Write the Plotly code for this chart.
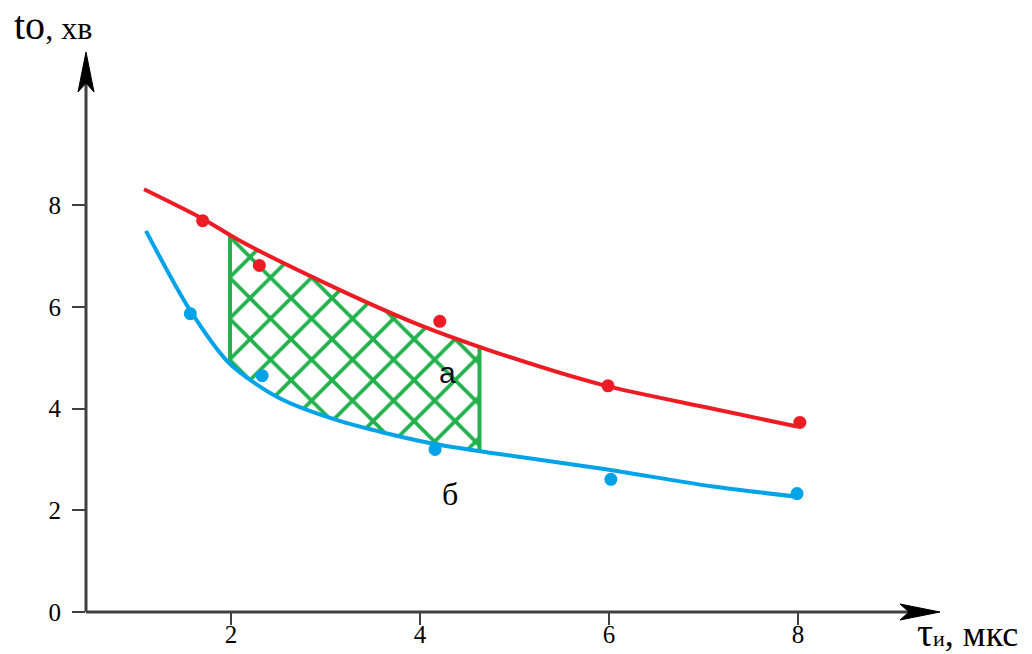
import numpy as np
import plotly.graph_objects as go

# ---- data ----
TAU_RED_PTS = [1.70, 2.30, 4.21, 5.99, 8.02]
T_RED_PTS = [7.70, 6.82, 5.72, 4.45, 3.73]
TAU_BLUE_PTS = [1.57, 2.33, 4.16, 6.02, 7.99]
T_BLUE_PTS = [5.87, 4.65, 3.20, 2.61, 2.33]

TAU_RED_CURVE = [1.08, 1.70, 2.09, 3.15, 4.02, 4.72, 5.93, 7.10, 7.99]
T_RED_CURVE = [8.32, 7.74, 7.31, 6.34, 5.63, 5.16, 4.47, 4.00, 3.65]
TAU_BLUE_CURVE = [1.10, 1.56, 1.98, 2.50, 3.15, 4.09, 4.72, 5.93, 7.10, 7.99]
T_BLUE_CURVE = [7.50, 5.96, 4.90, 4.22, 3.76, 3.33, 3.14, 2.82, 2.47, 2.27]

HATCH_RANGE = [1.99, 4.63]
X_TICKS = [2, 4, 6, 8]
Y_TICKS = [0, 2, 4, 6, 8]
LABEL_A = (4.29, 4.72, "а")
LABEL_B = (4.32, 2.32, "б")

RED = "#ed1c24"
BLUE = "#00a2e8"
GREEN = "#22b14c"
AXIS = "#404040"

# ---- layout geometry ----
W, H = 1032, 654
L, R, T, B = 86, 940, 52, 612
XR = [0.466, 9.503]
YR = [0.0, 11.02]


def px_x(p):
    return (p - L) / (R - L)


def px_y(p):
    return (B - p) / (B - T)


fig = go.Figure()

# hatched region between the curves
xl, xr = HATCH_RANGE
top_x = [xl] + [x for x in TAU_RED_CURVE if xl < x < xr] + [xr]
bot_x = [xl] + [x for x in TAU_BLUE_CURVE if xl < x < xr] + [xr]
top_y = list(np.interp(top_x, TAU_RED_CURVE, T_RED_CURVE))
bot_y = list(np.interp(bot_x, TAU_BLUE_CURVE, T_BLUE_CURVE))
poly_x = top_x + bot_x[::-1] + [top_x[0]]
poly_y = top_y + bot_y[::-1] + [top_y[0]]
fig.add_trace(go.Scatter(
    x=poly_x, y=poly_y, mode="none", fill="toself",
    fillcolor="rgba(0,0,0,0)",
    fillpattern=dict(shape="x", fgcolor=GREEN, fgopacity=1, bgcolor="rgba(0,0,0,0)",
                     size=29, solidity=0.24, fillmode="overlay"),
    hoverinfo="skip", showlegend=False))
fig.add_trace(go.Scatter(
    x=[xl, xl, None, xr, xr],
    y=[top_y[0], bot_y[0], None, top_y[-1], bot_y[-1]],
    mode="lines", line=dict(color=GREEN, width=4),
    hoverinfo="skip", showlegend=False))

# curves
fig.add_trace(go.Scatter(x=TAU_RED_CURVE, y=T_RED_CURVE, mode="lines",
                         line=dict(color=RED, width=4, shape="spline", smoothing=0.8),
                         showlegend=False))
fig.add_trace(go.Scatter(x=TAU_BLUE_CURVE, y=T_BLUE_CURVE, mode="lines",
                         line=dict(color=BLUE, width=4, shape="spline", smoothing=0.8),
                         showlegend=False))
fig.add_trace(go.Scatter(x=TAU_RED_PTS, y=T_RED_PTS, mode="markers",
                         marker=dict(color=RED, size=13), showlegend=False))
fig.add_trace(go.Scatter(x=TAU_BLUE_PTS, y=T_BLUE_PTS, mode="markers",
                         marker=dict(color=BLUE, size=13), showlegend=False))

serif = "Liberation Serif, Times New Roman, serif"
tickfont = dict(family=serif, size=25, color="black")

fig.update_layout(
    width=W, height=H,
    margin=dict(l=L, r=W - R, t=T, b=H - B, pad=0, autoexpand=False),
    paper_bgcolor="white", plot_bgcolor="white",
    xaxis=dict(range=XR, tickvals=X_TICKS, ticktext=[str(v) for v in X_TICKS],
               ticks="outside", ticklen=12, tickwidth=2, tickcolor=AXIS,
               showgrid=False, zeroline=False, showline=False, automargin=False,
               tickfont=tickfont, ticklabelstandoff=-12),
    yaxis=dict(range=YR, tickvals=Y_TICKS, ticktext=[str(v) for v in Y_TICKS],
               ticks="outside", ticklen=13, tickwidth=2, tickcolor=AXIS,
               showgrid=False, zeroline=False, showline=False, automargin=False,
               tickfont=tickfont, ticklabelstandoff=6),
)

# axes with arrowheads
shapes = [
    dict(type="line", xref="paper", yref="paper", x0=0, x1=0, y0=0, y1=px_y(T + 25),
         line=dict(color=AXIS, width=3)),
    dict(type="line", xref="paper", yref="paper", x0=0, x1=px_x(R - 25), y0=0, y1=0,
         line=dict(color=AXIS, width=3)),
    dict(type="path", xref="paper", yref="paper", xsizemode="pixel", ysizemode="pixel",
         xanchor=0, yanchor=1, path="M0,0 L-8,-40 L0,-31 L8,-40 Z",
         fillcolor="black", line=dict(color="black", width=1)),
    dict(type="path", xref="paper", yref="paper", xsizemode="pixel", ysizemode="pixel",
         xanchor=1, yanchor=0, path="M0,0 L-40,8 L-31,0 L-40,-8 Z",
         fillcolor="black", line=dict(color="black", width=1)),
]
fig.update_layout(shapes=shapes)

annotations = [
    dict(x=LABEL_A[0], y=LABEL_A[1], text=LABEL_A[2], showarrow=False,
         font=dict(family="Liberation Sans, Arial, sans-serif", size=30, color="#101020")),
    dict(x=LABEL_B[0], y=LABEL_B[1], text=LABEL_B[2], showarrow=False,
         font=dict(family=serif, size=32, color="black")),
    dict(xref="paper", yref="paper", x=px_x(12), y=px_y(26), xanchor="left", yanchor="middle",
         text="tо<span style='font-size:32px'>, хв</span>", showarrow=False,
         font=dict(family=serif, size=40, color="black")),
    dict(xref="paper", yref="paper", x=px_x(915), y=px_y(632), xanchor="left", yanchor="middle",
         text="τ<span style='font-size:22px'>и</span><span style='font-size:36px'>, мкс</span>",
         showarrow=False, font=dict(family=serif, size=40, color="black")),
]
fig.update_layout(annotations=annotations)

fig.write_html("out.html")
